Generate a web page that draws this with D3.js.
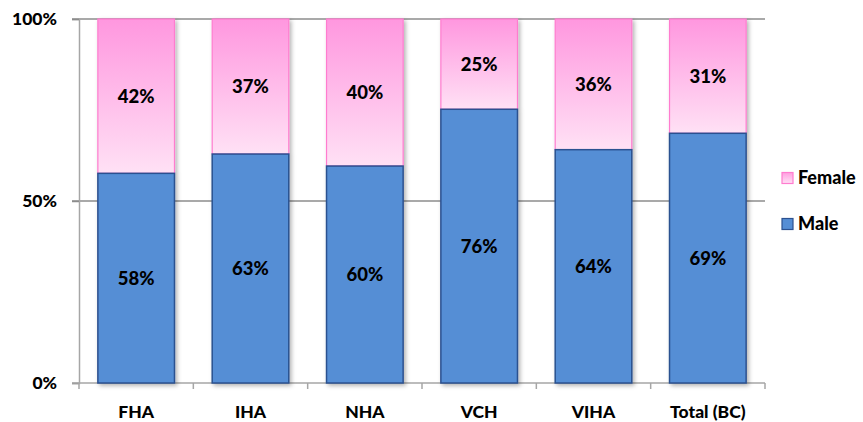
<!DOCTYPE html>
<html>
<head>
<meta charset="utf-8">
<script src="https://cdn.jsdelivr.net/npm/d3@7"></script>
<style>
  body { margin: 0; background: #fff; }
  svg { display: block; font-family: Lato, "Open Sans", sans-serif; font-weight: 900; }
</style>
</head>
<body>
<script>
// region names on the x axis
const regions = ["FHA", "IHA", "NHA", "VCH", "VIHA", "Total (BC)"];
// male share in percent (bar heights)
const male = [57.6, 62.9, 59.6, 75.2, 64.1, 68.6];
// printed labels
const maleLabels = [58, 63, 60, 76, 64, 69];
const femaleLabels = [42, 37, 40, 25, 36, 31];
const yTicks = [0, 50, 100];

const width = 863, height = 422;
const plotLeft = 79, plotRight = 765, plotTop = 19, plotBottom = 383;

const svg = d3.select("body").append("svg")
    .attr("width", width)
    .attr("height", height);

const defs = svg.append("defs");
const grad = defs.append("linearGradient")
    .attr("id", "pink")
    .attr("x1", 0).attr("y1", 0).attr("x2", 0).attr("y2", 1);
grad.append("stop").attr("offset", "0%").attr("stop-color", "#ff97df");
grad.append("stop").attr("offset", "100%").attr("stop-color", "#ffe1f5");

const legGrad = defs.append("linearGradient")
    .attr("id", "pinkLeg")
    .attr("x1", 0).attr("y1", 0).attr("x2", 0).attr("y2", 1);
legGrad.append("stop").attr("offset", "0%").attr("stop-color", "#ff9ee0");
legGrad.append("stop").attr("offset", "100%").attr("stop-color", "#ffe1f5");

const shadow = defs.append("filter").attr("id", "shadow")
    .attr("x", "-10%").attr("y", "-10%").attr("width", "130%").attr("height", "130%");
shadow.append("feDropShadow")
    .attr("dx", 2).attr("dy", 2).attr("stdDeviation", 2)
    .attr("flood-color", "#000").attr("flood-opacity", 0.3);

const x = d3.scaleBand()
    .domain(regions)
    .range([plotLeft, plotRight])
    .paddingInner(0.33)
    .paddingOuter(0.165);

const y = d3.scaleLinear()
    .domain([0, 100])
    .range([plotBottom, plotTop]);

// gridlines
svg.append("g")
    .selectAll("line")
    .data(yTicks.filter(d => d > 0))
    .enter().append("line")
    .attr("x1", plotLeft - 7)
    .attr("x2", plotRight)
    .attr("y1", d => y(d))
    .attr("y2", d => y(d))
    .attr("stroke", "#8c8c8c")
    .attr("stroke-width", 1.5);

// y axis
const yAxis = svg.append("g")
    .attr("transform", `translate(${plotLeft},0)`)
    .call(d3.axisLeft(y).tickValues(yTicks).tickSize(7).tickFormat(d => d + "%"));
yAxis.select(".domain").attr("stroke", "#a6a6a6").attr("stroke-width", 1.5);
yAxis.selectAll(".tick line").attr("stroke", "#8c8c8c").attr("stroke-width", 1.5);
yAxis.selectAll(".tick text")
    .attr("x", -22)
    .attr("font-size", 17.5)
    .attr("font-weight", 900)
    .attr("font-family", "Lato, sans-serif")
    .attr("fill", "#000");

// x axis: ticks at band boundaries
const xAxis = svg.append("g");
xAxis.append("line")
    .attr("x1", plotLeft - 7).attr("x2", plotRight)
    .attr("y1", plotBottom).attr("y2", plotBottom)
    .attr("stroke", "#a6a6a6").attr("stroke-width", 1.5);
const step = x.step();
xAxis.selectAll(".xt")
    .data(d3.range(regions.length + 1))
    .enter().append("line")
    .attr("class", "xt")
    .attr("x1", i => plotLeft + i * step)
    .attr("x2", i => plotLeft + i * step)
    .attr("y1", plotBottom)
    .attr("y2", plotBottom + 6)
    .attr("stroke", "#a6a6a6").attr("stroke-width", 1.5);
xAxis.selectAll(".xl")
    .data(regions)
    .enter().append("text")
    .attr("class", "xl")
    .attr("x", d => x(d) + x.bandwidth() / 2)
    .attr("y", 418)
    .attr("text-anchor", "middle")
    .attr("font-size", 17.5)
    .text(d => d);

const rows = regions.map((r, i) => ({ region: r, male: male[i], ml: maleLabels[i], fl: femaleLabels[i] }));

const bars = svg.append("g")
    .selectAll("g")
    .data(rows)
    .enter().append("g")
    .attr("filter", "url(#shadow)");

bars.append("rect")
    .attr("x", d => x(d.region))
    .attr("width", x.bandwidth())
    .attr("y", d => y(100))
    .attr("height", d => y(d.male) - y(100))
    .attr("fill", "url(#pink)")
    .attr("stroke", "#ff7ccf")
    .attr("stroke-width", 1.2);

bars.append("rect")
    .attr("x", d => x(d.region))
    .attr("width", x.bandwidth())
    .attr("y", d => y(d.male))
    .attr("height", d => y(0) - y(d.male))
    .attr("fill", "#558ed5")
    .attr("stroke", "#2c5190")
    .attr("stroke-width", 1.5);

const labels = svg.append("g")
    .attr("font-size", 18.5)
    .attr("text-anchor", "middle")
    .attr("fill", "#000");

labels.selectAll(".fl")
    .data(rows)
    .enter().append("text")
    .attr("x", d => x(d.region) + x.bandwidth() / 2)
    .attr("y", d => (y(100) + y(d.male)) / 2)
    .attr("dy", "0.36em")
    .text(d => d.fl + "%");

labels.selectAll(".ml")
    .data(rows)
    .enter().append("text")
    .attr("x", d => x(d.region) + x.bandwidth() / 2)
    .attr("y", d => (y(d.male) + y(0)) / 2)
    .attr("dy", "0.36em")
    .text(d => d.ml + "%");

// legend
const legend = svg.append("g")
    .selectAll("g")
    .data([
        { name: "Female", fill: "url(#pinkLeg)", stroke: "#ff7ccf", y: 178 },
        { name: "Male", fill: "#558ed5", stroke: "#2c5190", y: 224 }
    ])
    .enter().append("g")
    .attr("transform", d => `translate(782,${d.y})`);

legend.append("rect")
    .attr("x", 0).attr("y", -5.5)
    .attr("width", 11).attr("height", 11)
    .attr("fill", d => d.fill)
    .attr("stroke", d => d.stroke)
    .attr("stroke-width", 1.2);

legend.append("text")
    .attr("x", 16)
    .attr("dy", "0.36em")
    .attr("font-size", 18)
    .text(d => d.name);
</script>
</body>
</html>
